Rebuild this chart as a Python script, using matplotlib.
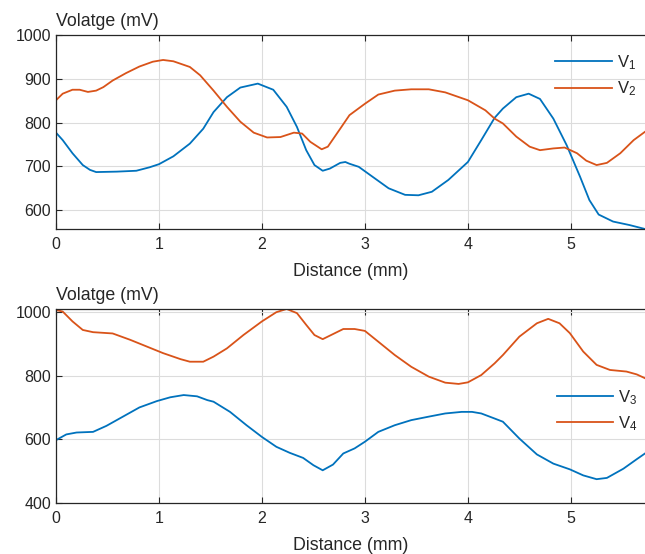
import matplotlib
matplotlib.use("Agg")
import matplotlib.pyplot as plt

plt.rcParams['font.family'] = ['Liberation Sans', 'DejaVu Sans']
plt.rcParams['mathtext.fontset'] = 'custom'
plt.rcParams['mathtext.rm'] = 'Liberation Sans'
plt.rcParams['mathtext.it'] = 'Liberation Sans'
plt.rcParams['mathtext.default'] = 'regular'

# ---- data ----
v1_x = [0, 0.065, 0.16, 0.26, 0.33, 0.39, 0.59, 0.78, 0.91, 1.0, 1.14, 1.30, 1.43, 1.53,
        1.66, 1.79, 1.96, 2.11, 2.24, 2.34, 2.43, 2.51, 2.59, 2.66, 2.76, 2.81, 2.85, 2.94,
        3.07, 3.23, 3.39, 3.52, 3.65, 3.81, 4.0, 4.13, 4.26, 4.34, 4.47, 4.59, 4.70, 4.83,
        4.96, 5.09, 5.18, 5.27, 5.41, 5.57, 5.72]
v1_y = [777, 760, 730, 703, 692, 687, 688, 690, 698, 705, 723, 752, 786, 824,
        858, 880, 889, 875, 836, 790, 737, 703, 690, 695, 708, 710, 706, 699,
        677, 650, 635, 634, 642, 669, 710, 760, 811, 832, 858, 866, 854, 809,
        748, 676, 623, 590, 574, 566, 557]

v2_x = [0, 0.065, 0.16, 0.23, 0.31, 0.39, 0.46, 0.55, 0.68, 0.81, 0.94, 1.04, 1.14, 1.30,
        1.40, 1.53, 1.66, 1.79, 1.92, 2.05, 2.18, 2.31, 2.39, 2.47, 2.58, 2.64, 2.76, 2.85,
        3.0, 3.13, 3.29, 3.45, 3.62, 3.78, 4.0, 4.17, 4.26, 4.34, 4.47, 4.60, 4.70, 4.83,
        4.94, 5.06, 5.15, 5.25, 5.35, 5.48, 5.61, 5.72]
v2_y = [851, 866, 875, 875, 870, 873, 881, 896, 913, 928, 939, 943, 940, 927,
        908, 873, 836, 802, 777, 766, 767, 777, 775, 756, 739, 745, 786, 817,
        843, 864, 873, 876, 876, 869, 851, 828, 809, 798, 768, 745, 737, 741,
        743, 730, 713, 703, 708, 730, 760, 779]

v3_x = [0, 0.1, 0.2, 0.36, 0.49, 0.65, 0.81, 0.98, 1.11, 1.24, 1.37, 1.47, 1.53, 1.69,
        1.85, 2.0, 2.14, 2.27, 2.40, 2.50, 2.59, 2.69, 2.79, 2.90, 3.0, 3.13, 3.29, 3.45,
        3.62, 3.78, 3.94, 4.04, 4.13, 4.26, 4.34, 4.50, 4.67, 4.83, 4.99, 5.12, 5.25, 5.35,
        5.51, 5.64, 5.72]
v3_y = [598, 616, 622, 624, 643, 672, 701, 721, 733, 740, 736, 724, 719, 687,
        645, 608, 577, 558, 542, 519, 503, 521, 556, 572, 593, 624, 645, 661,
        672, 682, 687, 687, 682, 666, 656, 603, 553, 524, 506, 487, 475, 479,
        508, 538, 556]

v4_x = [0, 0.065, 0.16, 0.26, 0.36, 0.55, 0.72, 0.88, 1.04, 1.21, 1.30, 1.43, 1.53, 1.66,
        1.82, 2.0, 2.14, 2.24, 2.34, 2.43, 2.51, 2.59, 2.69, 2.79, 2.90, 3.0, 3.13, 3.29,
        3.45, 3.62, 3.78, 3.91, 4.0, 4.13, 4.26, 4.34, 4.50, 4.67, 4.78, 4.89, 4.99, 5.12,
        5.25, 5.38, 5.54, 5.64, 5.72]
v4_y = [1008, 1003, 972, 945, 938, 934, 914, 893, 872, 853, 845, 845, 861, 887,
        929, 972, 1001, 1011, 998, 961, 929, 916, 932, 948, 948, 942, 908, 866,
        829, 798, 779, 775, 780, 803, 840, 866, 924, 966, 980, 966, 935, 877,
        835, 819, 814, 805, 793]

x_ticks = [0, 1, 2, 3, 4, 5]
top_yticks = [600, 700, 800, 900, 1000]
bot_yticks = [400, 600, 800, 1000]
labels_top = ['V$_1$', 'V$_2$']
labels_bot = ['V$_3$', 'V$_4$']

BLUE = '#0072BD'
ORANGE = '#D95319'
TXT = '#262626'
FS_TICK = 11.5
FS_LAB = 12.8
FS_LEG = 12

fig = plt.figure(figsize=(6.45, 5.54), dpi=100)
W, H = 645, 554
ax1 = fig.add_axes([56 / W, 1 - 229 / H, (645 - 56) / W, (229 - 35) / H])
ax2 = fig.add_axes([56 / W, 1 - 503 / H, (645 - 56) / W, (503 - 309) / H])


def style(ax, yticks, ylim):
    ax.set_xlim(0, 5.72)
    ax.set_ylim(*ylim)
    ax.set_xticks(x_ticks)
    ax.set_yticks(yticks)
    ax.grid(True, color='#dcdcdc', linewidth=0.8)
    ax.set_axisbelow(True)
    ax.tick_params(direction='in', top=True, right=False, length=4, width=0.8,
                   colors=TXT, labelsize=FS_TICK)
    ax.tick_params(axis='x', pad=6)
    ax.tick_params(axis='y', pad=3.5)
    for s in ['left', 'bottom', 'top']:
        ax.spines[s].set_color(TXT)
        ax.spines[s].set_linewidth(0.9)
    ax.spines['right'].set_visible(False)
    ax.set_xlabel('Distance (mm)', fontsize=FS_LAB, color=TXT, labelpad=8)
    ax.text(0, 1.028, 'Volatge (mV)', transform=ax.transAxes, fontsize=FS_LAB,
            color=TXT, ha='left', va='bottom')


ax1.plot(v1_x, v1_y, color=BLUE, lw=1.3, label=labels_top[0])
ax1.plot(v2_x, v2_y, color=ORANGE, lw=1.3, label=labels_top[1])
style(ax1, top_yticks, (557, 1000))
ax1.legend(loc='center left', bbox_to_anchor=(0.847, 0.79), frameon=False,
           fontsize=FS_LEG, handlelength=3.4, handletextpad=0.3, borderpad=0,
           borderaxespad=0, labelspacing=0.45, labelcolor=TXT)

ax2.plot(v3_x, v3_y, color=BLUE, lw=1.3, label=labels_bot[0])
ax2.plot(v4_x, v4_y, color=ORANGE, lw=1.3, label=labels_bot[1])
style(ax2, bot_yticks, (400, 1011))
ax2.legend(loc='center left', bbox_to_anchor=(0.85, 0.478), frameon=False,
           fontsize=FS_LEG, handlelength=3.4, handletextpad=0.3, borderpad=0,
           borderaxespad=0, labelspacing=0.45, labelcolor=TXT)

fig.savefig('out.png', dpi=100)
